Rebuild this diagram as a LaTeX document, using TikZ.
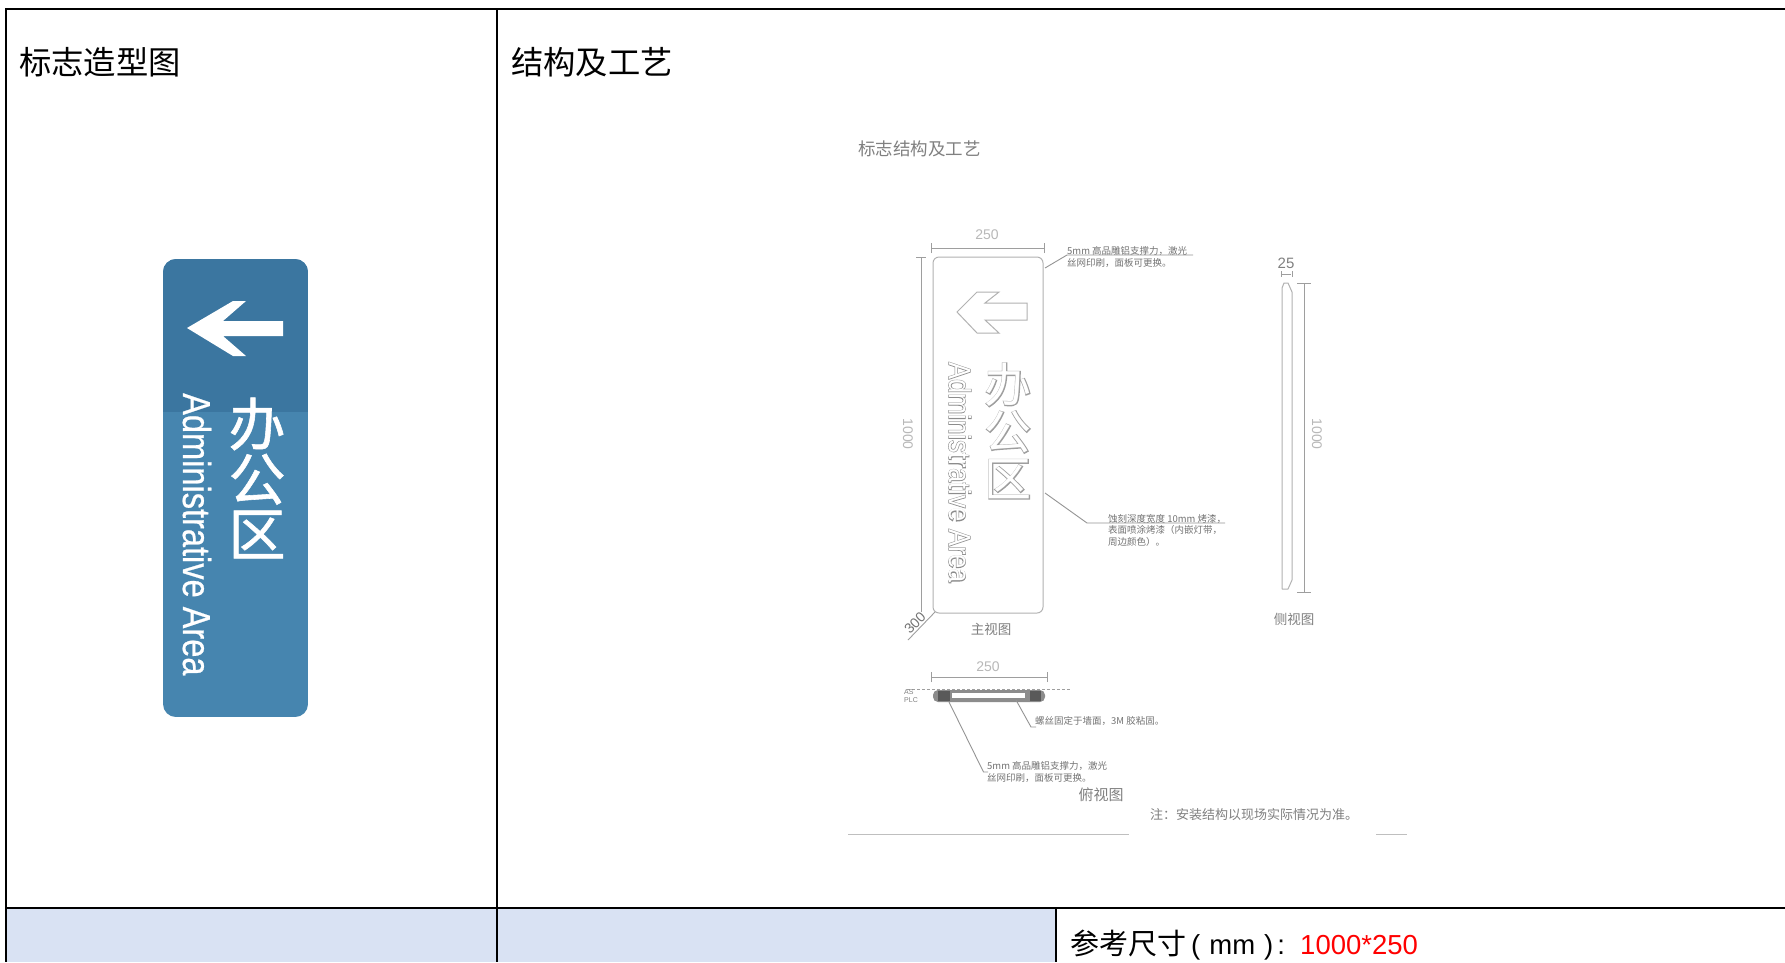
\documentclass[tikz,border=0pt]{standalone}
\usepackage{fontspec}
\setmainfont{Liberation Sans}
\newfontfamily\cjk{Noto Sans CJK SC}
\newfontfamily\cjkmed[FakeBold=1]{Noto Sans CJK SC}
\newfontfamily\cjkfat[FakeBold=3.5]{Noto Sans CJK SC}
\newfontfamily\latnarrow[FakeStretch=.835,FakeBold=.6]{Liberation Sans}
\newfontfamily\latthin[FakeStretch=.835]{Liberation Sans}
\newfontfamily\latfat[FakeBold=3.5,FakeStretch=.835]{Liberation Sans}
\tikzset{
 gridline/.style={draw=black,line width=1.6pt},
 outline/.style={draw=black!30,line width=1pt,line join=round},
 dimline/.style={draw=black!38,line width=.9pt},
 leader/.style={draw=black!42,line width=.9pt},
 head/.style={inner sep=0pt,anchor=west,font=\cjk\fontsize{32.3}{32.3}\selectfont},
 small/.style={inner sep=0pt,anchor=west,text=black!55,font=\cjk\fontsize{9.5}{11.5}\selectfont,align=left},
 capt/.style={inner sep=0pt,text=black!50,font=\cjk\fontsize{13.5}{13.5}\selectfont},
 dimtxt/.style={inner sep=0pt,text=black!28,font=\fontsize{14}{14}\selectfont},
}
\definecolor{signtop}{HTML}{3B76A0}
\definecolor{signlow}{HTML}{4685AF}
\definecolor{band}{HTML}{D9E2F3}
\begin{document}
\begin{tikzpicture}[x=1pt,y=-1pt]
\useasboundingbox (0,0) rectangle (1785,962);
\fill[white] (0,0) rectangle (1785,962);
% table
\fill[band] (6,908) rectangle (1056,962);
\draw[gridline] (5,9) -- (1785,9);
\draw[gridline] (5,908) -- (1785,908);
\draw[gridline] (6,9) -- (6,962);
\draw[gridline,line width=1.2pt] (497,9) -- (497,962);
\draw[gridline,line width=1.2pt] (1056,908) -- (1056,962);
\node[head] (t1) at (19,62) {标志造型图};
\node[head] (t2) at (511,62) {结构及工艺};
\node[inner sep=0pt,anchor=base west,font=\cjk\fontsize{29}{29}\selectfont] (d1) at (1070,954) {参考尺寸};
\node[inner sep=0pt,anchor=base west,font=\fontsize{27.5}{27.5}\selectfont] (d2) at (1191,954) {(\hspace{9pt}mm\hspace{9pt})\hspace{4pt}:};
\node[inner sep=0pt,anchor=base west,text=red,font=\fontsize{27.5}{27.5}\selectfont] (d3) at (1300,954) {1000*250};
% sign
\begin{scope}
\clip[rounded corners=13pt] (163,259) rectangle (308,717);
\fill[signlow] (163,259) rectangle (308,717);
\fill[signtop] (163,259) rectangle (308,412);
\end{scope}
\fill[white] (187,328) -- (233,301) -- (246,301) -- (223,321) -- (283,321) -- (283,336) -- (223,336) -- (246,356) -- (233,356) -- cycle;
\node[inner sep=0pt,text=white,align=center,font=\cjkmed\fontsize{57}{55}\selectfont] (cn) at (257,478) {办\\公\\区};
\node[rotate=-90,inner sep=0pt,anchor=base west,text=white,font=\latnarrow\fontsize{39}{39}\selectfont] (en) at (183,393) {Administrative Area};
% title of drawing
\node[inner sep=0pt,anchor=west,text=black!50,font=\cjk\fontsize{17.5}{17.5}\selectfont] (st) at (858,149) {标志结构及工艺};
% front view
\draw[outline,rounded corners=6pt] (933,257) rectangle (1043,613);
\draw[outline,line join=miter] (957,312) -- (977,292) -- (999,292) -- (985,303) -- (1027,303) -- (1027,320) -- (985,320) -- (999,333) -- (977,333) -- cycle;
\node[inner sep=0pt,text=black!38,align=center,font=\cjkfat\fontsize{47}{47}\selectfont] (c2a) at (1008,431) {办\\公\\区};
\node[inner sep=0pt,text=white,align=center,font=\cjk\fontsize{47}{47}\selectfont] (c2b) at (1008,431) {办\\公\\区};
\node[rotate=-90,inner sep=0pt,anchor=base west,text=black!45,font=\latfat\fontsize{30.5}{30.5}\selectfont] (e2a) at (949,362) {Administrative Area};
\node[rotate=-90,inner sep=0pt,anchor=base west,text=white,font=\latthin\fontsize{30.5}{30.5}\selectfont] (e2b) at (949,362) {Administrative Area};
% front view dims
\coordinate (wa) at (931,248); \coordinate (wb) at (1044,248);
\draw[dimline] (wa) -- (wb);
\draw[dimline] ([yshift=-5pt]wa) -- ([yshift=5pt]wa);
\draw[dimline] ([yshift=-5pt]wb) -- ([yshift=5pt]wb);
\node[dimtxt] (w) at (987,235) {250};
\coordinate (ha) at (921,257); \coordinate (hb) at (921,612);
\draw[dimline] (ha) -- (hb);
\draw[dimline] (916,257) -- (926,257);
\node[dimtxt,rotate=-90] (h) at (908,434) {1000};
\coordinate (da) at (935,612); \coordinate (db) at (908,640);
\draw[dimline] (da) -- (db);
\node[inner sep=0pt,rotate=45,text=black!55,font=\fontsize{14}{14}\selectfont] (r) at (915,623) {300};
\coordinate (l1a) at (1045,268); \coordinate (l1b) at (1067,255); \coordinate (l1c) at (1193,255);
\draw[leader] (l1a) -- (l1b) -- (l1c);
\node[small] (n1) at (1067,257) {5mm 高品雕铝支撑力，激光\\丝网印刷，面板可更换。};
\coordinate (l2a) at (1045,493); \coordinate (l2b) at (1087,523); \coordinate (l2c) at (1225,523);
\draw[leader] (l2a) -- (l2b) -- (l2c);
\node[small] (n2) at (1108,530) {蚀刻深度宽度 10mm 烤漆，\\表面喷涂烤漆（内嵌灯带，\\周边颜色）。};
\node[capt] (main) at (991,629) {主视图};
% side view
\draw[outline] (1282,589) -- (1282,288) -- (1284,283) -- (1288,283) -- (1292,292) -- (1292,580) -- (1288,589) -- cycle;
\draw[dimline] (1286,274) ++(-5,0) -- ++(10,0);
\draw[dimline] (1281,271) -- (1281,277);
\draw[dimline] (1292,271) -- (1292,277);
\node[inner sep=0pt,text=black!50,font=\fontsize{15}{15}\selectfont] (s25) at (1286,263) {25};
\draw[dimline] (1304,283) -- (1304,592);
\draw[dimline] (1297,283) -- (1311,283);
\draw[dimline] (1297,592) -- (1311,592);
\node[dimtxt,rotate=-90] (h2) at (1317,434) {1000};
\node[capt] (side) at (1294,619) {侧视图};
% top view
\coordinate (ta) at (931,677); \coordinate (tb) at (1047,677);
\draw[dimline] (ta) -- (tb);
\draw[dimline] ([yshift=-5pt]ta) -- ([yshift=5pt]ta);
\draw[dimline] ([yshift=-5pt]tb) -- ([yshift=5pt]tb);
\node[dimtxt] (w2) at (988,667) {250};
\draw[dimline,densely dashed] (907,689) -- (1071,689);
\fill[black!45,rounded corners=5pt] (933,690) rectangle (1045,702);
\fill[black!65] (938,691) rectangle (950,701);
\fill[black!65] (1030,691) rectangle (1041,701);
\fill[white] (952,693) rectangle (1025,698);
\node[inner sep=0pt,text=black!50,font=\fontsize{7}{8}\selectfont,align=left] (pl) at (911,696) {AS\\PLC};
\coordinate (p1a) at (1016,700); \coordinate (p1b) at (1031,727);
\draw[leader] (p1a) -- (p1b) -- (1036,727);
\node[small] (n3) at (1035,721) {螺丝固定于墙面，3M 胶粘固。};
\coordinate (p2a) at (949,702); \coordinate (p2b) at (983.5,772);
\draw[leader] (p2a) -- (p2b) -- (988,772);
\node[small] (n4) at (987,772) {5mm 高品雕铝支撑力，激光\\丝网印刷，面板可更换。};
\node[capt,font=\cjk\fontsize{15}{15}\selectfont] (topv) at (1101,795) {俯视图};
\node[inner sep=0pt,anchor=west,text=black!50,font=\cjk\fontsize{13}{13}\selectfont] (note) at (1150,815) {注：安装结构以现场实际情况为准。};
\draw[dimline,draw=black!25] (848,834) -- (1129,834);
\draw[dimline,draw=black!25] (1376,834) -- (1407,834);
\end{tikzpicture}
\end{document}
